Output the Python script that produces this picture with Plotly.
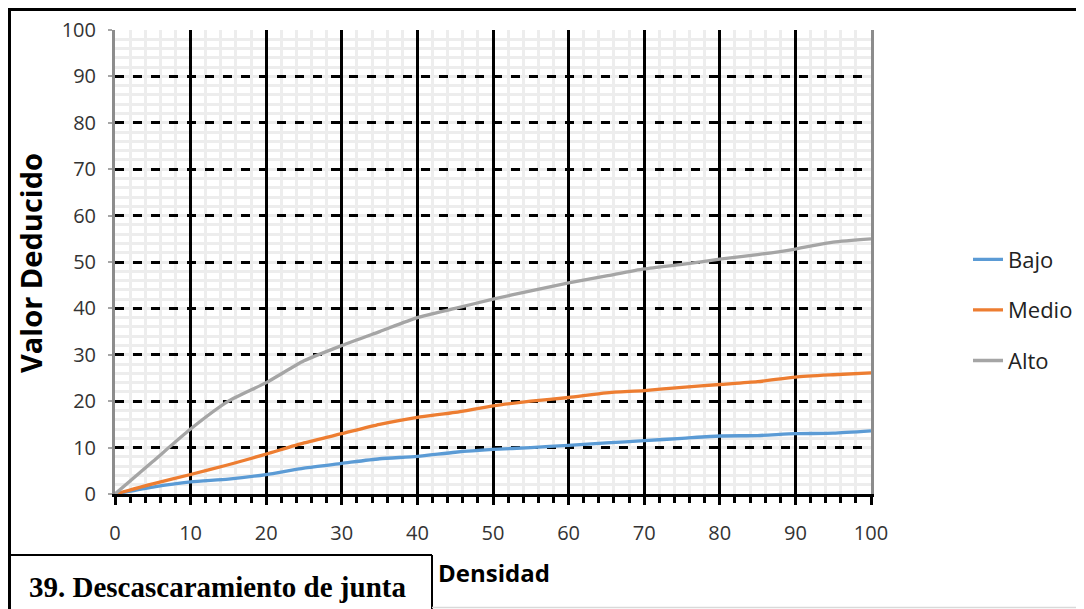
import plotly.graph_objects as go

# ---- data ----
densidad = [0, 5, 10, 15, 20, 25, 30, 35, 40, 45, 50, 55, 60, 65, 70, 75, 80, 85, 90, 95, 100]
bajo = [0, 1.5, 2.6, 3.2, 4.2, 5.6, 6.6, 7.6, 8.1, 9.0, 9.6, 10.0, 10.5, 11.0, 11.5, 12.0, 12.5, 12.6, 13.0, 13.1, 13.6]
medio = [0, 2.2, 4.2, 6.3, 8.6, 11.0, 13.0, 15.0, 16.5, 17.6, 19.0, 20.0, 20.8, 21.8, 22.3, 23.0, 23.6, 24.2, 25.2, 25.7, 26.1]
alto = [0, 7.0, 14.0, 20.0, 24.0, 28.7, 32.0, 35.0, 38.0, 40.0, 42.0, 43.8, 45.5, 47.0, 48.5, 49.5, 50.6, 51.6, 52.8, 54.3, 55.0]

series_names = ["Bajo", "Medio", "Alto"]
series_values = [bajo, medio, alto]
series_colors = ["#5B9BD5", "#ED7D31", "#A5A5A5"]

x_ticks = [0, 10, 20, 30, 40, 50, 60, 70, 80, 90, 100]
y_ticks = [0, 10, 20, 30, 40, 50, 60, 70, 80, 90, 100]

title_text = "39. Descascaramiento de junta"
x_title = "Densidad"
y_title = "Valor Deducido"

# ---- layout geometry (screen pixels; page body has an 8px margin) ----
OFF = 8
W_FIG, H_FIG = 1084 - OFF, 609 - OFF
L, R, T, B = 115, 871, 30, 494
PW, PH = R - L, B - T


def px(x):
    return (x - L) / PW


def py(y):
    return (B - y) / PH


fig = go.Figure()
for i, (name, vals, col) in enumerate(zip(series_names, series_values, series_colors)):
    fig.add_trace(go.Scatter(
        x=densidad, y=vals, name=name, mode="lines",
        line=dict(color=col, width=3.3, shape="spline", smoothing=0.6),
        legendgroup=name,
    ))

sans = "Open Sans, Lato, sans-serif"
tick_font = dict(family=sans, size=20, color="#333333")
minor_grid = "#EDEDED"

fig.update_layout(
    width=W_FIG, height=H_FIG,
    margin=dict(l=L - OFF, r=1084 - R, t=T - OFF, b=609 - B, autoexpand=False),
    paper_bgcolor="white", plot_bgcolor="white",
    showlegend=True,
    legend=dict(
        x=px(968), y=py(310), xanchor="left", yanchor="middle",
        font=dict(family=sans, size=22, color="#222222"),
        tracegroupgap=19, bgcolor="rgba(0,0,0,0)",
    ),
    xaxis=dict(
        range=[0, 100], tickvals=x_ticks, ticktext=[str(v) for v in x_ticks],
        showgrid=True, gridcolor="black", gridwidth=2.5, automargin=False,
        zeroline=False, showline=True, linecolor="black", linewidth=2.5,
        ticks="outside", ticklen=8, tickwidth=2.5, tickcolor="black",
        tickfont=tick_font, ticklabelstandoff=11,
        minor=dict(dtick=2, showgrid=True, gridcolor=minor_grid, gridwidth=2.5, griddash="solid",
                   ticks="outside", ticklen=6, tickwidth=2.5, tickcolor="black"),
    ),
    xaxis2=dict(
        range=[0, 100], overlaying="x", anchor="y", side="bottom", automargin=False,
        showgrid=False, zeroline=False, showline=False, showticklabels=False,
        tickvals=x_ticks, ticks="inside", ticklen=7, tickwidth=2.5, tickcolor="black",
        minor=dict(dtick=2, ticks="inside", ticklen=6, tickwidth=2.5, tickcolor="black", showgrid=False),
    ),
    xaxis3=dict(
        range=[0, 100], overlaying="x", anchor="y", side="top", automargin=False,
        showgrid=False, zeroline=False, showline=True, linecolor="#A6A6A6", linewidth=2,
        showticklabels=False, ticks="",
    ),
    yaxis=dict(
        range=[0, 100], tickvals=y_ticks, ticktext=[str(v) for v in y_ticks],
        showgrid=True, gridcolor="black", gridwidth=2.5, griddash="dash", automargin=False,
        zeroline=False, showline=True, linecolor="#8C8C8C", linewidth=3, mirror=True,
        ticks="outside", ticklen=4, tickwidth=1.5, tickcolor="#A6A6A6",
        tickfont=tick_font, ticklabelstandoff=8,
        minor=dict(dtick=2, showgrid=True, gridcolor=minor_grid, gridwidth=2.5, griddash="solid"),
    ),
)

# frame lines of the original figure (screen pixels)
frame = [
    (8, 9.5, 1084, 9.5, "black", 3),
    (9.5, 8, 9.5, 609, "black", 3),
    (8, 555, 432, 555, "black", 2),
    (432, 555, 432, 609, "black", 2),
    (432, 607.5, 1084, 607.5, "#D9D9D9", 1.5),
    (1083, 9.5, 1083, 607.5, "#E6E6E6", 1.5),
]
for x0, y0, x1, y1, c, w in frame:
    fig.add_shape(type="line", xref="paper", yref="paper",
                  x0=px(x0), y0=py(y0), x1=px(x1), y1=py(y1),
                  line=dict(color=c, width=w), layer="above")

fig.add_annotation(text=f"<b>{title_text}</b>", xref="paper", yref="paper",
                   x=px(217), y=py(587), xanchor="center", yanchor="middle",
                   showarrow=False,
                   font=dict(family="Liberation Serif, Times New Roman, serif", size=29, color="black"))
fig.add_annotation(text=f"<b>{x_title}</b>", xref="paper", yref="paper",
                   x=px(436), y=py(572), xanchor="left", yanchor="middle",
                   showarrow=False,
                   font=dict(family=sans, size=24, color="black"))
fig.add_annotation(text=f"<b>{y_title}</b>", xref="paper", yref="paper",
                   x=px(30), y=py(263), xanchor="center", yanchor="middle",
                   textangle=-90, showarrow=False,
                   font=dict(family=sans, size=29, color="black"))

fig.write_html("out.html")
